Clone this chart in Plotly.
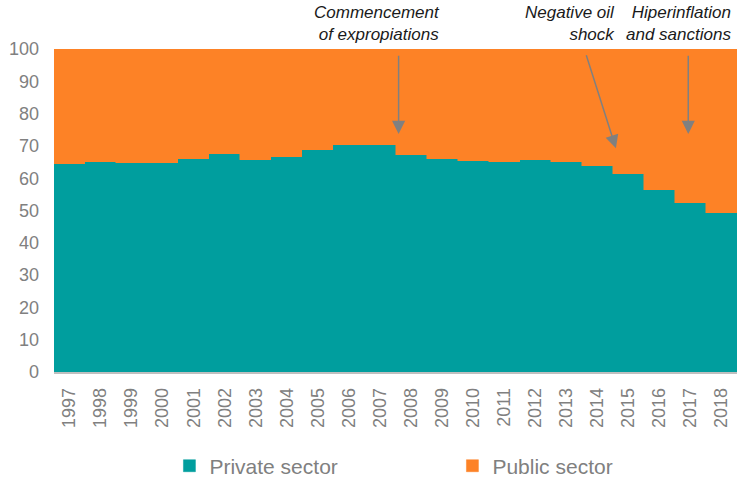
import plotly.graph_objects as go

# Share of employment by sector (%)
years = list(range(1997, 2019))
private_sector = [64.4, 65.0, 64.6, 64.8, 66.1, 67.4, 65.6, 66.7, 68.6, 70.3, 70.3,
                  67.1, 65.8, 65.3, 65.0, 65.5, 65.1, 63.9, 61.3, 56.2, 52.2, 49.1]
public_sector = [round(100 - v, 1) for v in private_sector]

# Event markers: (label, tip x, tip y, tail x, tail y, label right edge in paper units)
events = [
    ("Commencement<br>of expropiations", 2007.6, 73.7, 2007.6, 98.4, 0.568),
    ("Negative oil<br>shock", 2014.6, 69.3, 2013.63, 98.5, 0.824),
    ("Hiperinflation<br>and sanctions", 2016.93, 73.7, 2016.93, 98.4, 0.994),
]

TEAL = "#009E9E"
ORANGE = "#FD8226"
GREY = "#808080"
FONT = "Arial, Liberation Sans, sans-serif"

fig = go.Figure()
fig.add_trace(go.Bar(x=years, y=private_sector, name="Private sector",
                     marker=dict(color=TEAL, line=dict(color=TEAL, width=0.5))))
fig.add_trace(go.Bar(x=years, y=public_sector, name="Public sector",
                     marker=dict(color=ORANGE, line=dict(color=ORANGE, width=0.5))))

for label, tx, ty, ax, ay, xr in events:
    fig.add_annotation(x=tx, y=ty, ax=ax, ay=ay, xref="x", yref="y",
                       axref="x", ayref="y", text="", showarrow=True,
                       arrowhead=2, arrowsize=1.75, arrowwidth=1.5,
                       arrowcolor=GREY, standoff=0)
    fig.add_annotation(x=xr, y=1.01, xref="paper", yref="paper",
                       xanchor="right", yanchor="bottom", align="right",
                       showarrow=False, text="<i>" + label + "</i>",
                       font=dict(family=FONT, size=17, color="#1a1a1a"))

fig.update_layout(
    width=743, height=479,
    margin=dict(l=54, r=6, t=49, b=107, autoexpand=False),
    barmode="stack", bargap=0,
    plot_bgcolor="white", paper_bgcolor="white",
    font=dict(family=FONT, color=GREY),
    showlegend=True,
    legend=dict(orientation="h", x=0.169, xanchor="left",
                yref="container", y=0.027, yanchor="middle",
                font=dict(size=21, color=GREY),
                entrywidth=238, itemwidth=30, traceorder="normal"),
)
fig.update_xaxes(range=[1996.5, 2018.5], tickmode="array", tickvals=years,
                 ticktext=[str(y) for y in years], tickangle=-90,
                 tickfont=dict(size=18, color=GREY), showgrid=False,
                 showline=True, linecolor="#BFBFBF", linewidth=1.5,
                 ticks="", ticklabelstandoff=7, zeroline=False,
                 automargin=False)
fig.update_yaxes(range=[0, 100], dtick=10, tickfont=dict(size=18, color=GREY),
                 showgrid=False, showline=False, ticks="", ticklabelstandoff=14,
                 zeroline=False, automargin=False)

fig.write_html("out.html")
